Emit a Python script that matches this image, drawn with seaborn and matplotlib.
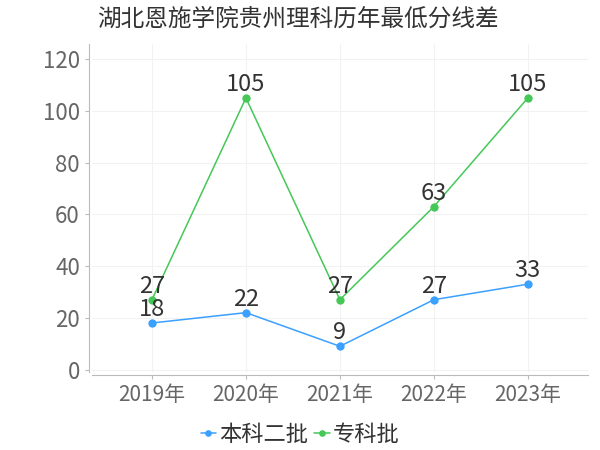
import matplotlib
matplotlib.use("Agg")
import matplotlib.pyplot as plt
import seaborn as sns
import pandas as pd

# 数据
years = ['2019年', '2020年', '2021年', '2022年', '2023年']
benke2 = [18, 22, 9, 27, 33]
zhuanke = [27, 105, 27, 63, 105]
series_names = ['本科二批', '专科批']
colors = ['#3ca0ff', '#45c858']

df = pd.DataFrame({
    'year': years * 2,
    'score': benke2 + zhuanke,
    'batch': [series_names[0]] * 5 + [series_names[1]] * 5,
})

sns.set_style('white')
plt.rcParams['font.family'] = ['Noto Sans CJK SC', 'DejaVu Sans']

fig = plt.figure(figsize=(6, 4.5), dpi=100)
ax = fig.add_axes([0.153, 0.173, 0.827, 0.729])

sns.lineplot(data=df, x='year', y='score', hue='batch', palette=colors,
             marker='o', markersize=6, markeredgewidth=0, linewidth=1.1,
             sort=False, ax=ax)

# 数据标签
for vals in [benke2, zhuanke]:
    for i, v in enumerate(vals):
        ax.text(i, v + 0.8, str(v), ha='center', va='bottom',
                fontsize=17, color='#333333')

ax.set_xlim(-0.64, 4.64)
ax.set_ylim(-1, 125.8)
ax.set_yticks(range(0, 121, 20))
ax.set_xlabel('')
ax.set_ylabel('')
ax.grid(True, color='#f2f2f2', linewidth=0.8)
ax.set_axisbelow(True)

for s in ['top', 'right']:
    ax.spines[s].set_visible(False)
ax.spines['left'].set_color('#bbbbbb')
ax.spines['bottom'].set_color('#bbbbbb')
ax.spines['left'].set_position(('outward', 2))
ax.spines['bottom'].set_position(('outward', 2))
ax.tick_params(axis='y', colors='#666666', labelsize=16, length=3, color='#bbbbbb')
ax.tick_params(axis='x', colors='#666666', labelsize=15, length=3, color='#bbbbbb')
ax.tick_params(left=True, bottom=True)

fig.text(0.162, 0.958, '湖北恩施学院贵州理科历年最低分线差', fontsize=17,
         color='#333333', ha='left', va='center')

leg = ax.legend(loc='center', bbox_to_anchor=(0.42, -0.19), ncol=2,
                frameon=False, fontsize=16, handlelength=0.7, handletextpad=0.15,
                columnspacing=0.25, labelcolor='#333333', markerscale=0.8)

fig.savefig('out.png', dpi=100)
